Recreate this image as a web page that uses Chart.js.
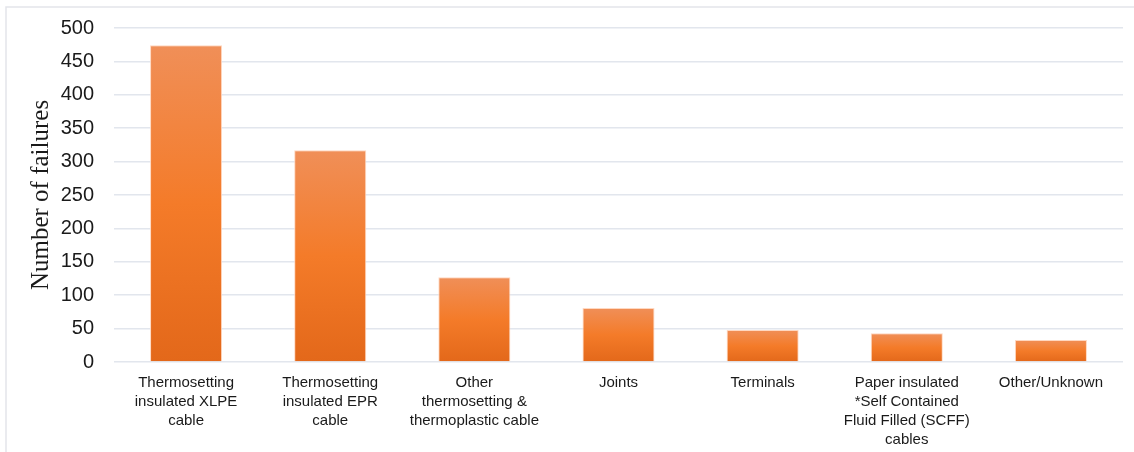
<!DOCTYPE html>
<html>
<head>
<meta charset="utf-8">
<script src="https://cdn.jsdelivr.net/npm/chart.js@4/dist/chart.umd.min.js"></script>
<style>
  html, body { margin: 0; padding: 0; background: #ffffff; }
  #wrap { width: 1134px; height: 452px; position: relative; }
</style>
</head>
<body>
<div id="wrap"><canvas id="chart" width="1134" height="452"></canvas></div>
<script>
// Cable system failures by component type
const categories = [
  ["Thermosetting", "insulated XLPE", "cable"],
  ["Thermosetting", "insulated EPR", "cable"],
  ["Other", "thermosetting &", "thermoplastic cable"],
  "Joints",
  "Terminals",
  ["Paper insulated", "*Self Contained", "Fluid Filled (SCFF)", "cables"],
  "Other/Unknown"
];
const failures = [474, 317, 127, 81, 48, 43, 33];
const yTicks = [0, 50, 100, 150, 200, 250, 300, 350, 400, 450, 500];

// Light frame along the top and left edges
const framePlugin = {
  id: 'frame',
  beforeDraw(chart) {
    const c = chart.ctx;
    c.save();
    c.strokeStyle = '#E3E5EA';
    c.lineWidth = 1.5;
    c.beginPath();
    c.moveTo(6, chart.height);
    c.lineTo(6, 7);
    c.lineTo(chart.width, 7);
    c.stroke();
    c.restore();
  }
};

// Each bar fades from a lighter orange at its top to a deeper orange at its base
function barGradient(context) {
  const chart = context.chart;
  if (!chart.chartArea) return '#F47C2A';
  const y = chart.scales.y;
  const top = y.getPixelForValue(context.raw);
  const base = y.getPixelForValue(0);
  const g = chart.ctx.createLinearGradient(0, top, 0, base);
  g.addColorStop(0, '#F08F58');
  g.addColorStop(0.5, '#F47B29');
  g.addColorStop(1, '#E3681A');
  return g;
}

new Chart(document.getElementById('chart'), {
  type: 'bar',
  data: {
    labels: categories,
    datasets: [{
      data: failures,
      backgroundColor: barGradient,
      borderColor: 'rgba(255, 214, 190, 0.95)',
      borderWidth: 1,
      barPercentage: 0.5,
      categoryPercentage: 1.0
    }]
  },
  options: {
    responsive: false,
    animation: false,
    layout: { padding: { left: 0, right: 11, top: 28, bottom: 0 } },
    plugins: {
      legend: { display: false },
      tooltip: { enabled: false }
    },
    scales: {
      x: {
        grid: { display: false, drawTicks: false },
        border: { display: false },
        ticks: {
          color: '#1a1a1a',
          font: { family: 'Liberation Sans, Arial, sans-serif', size: 15, lineHeight: 1.27 },
          padding: 11,
          maxRotation: 0,
          autoSkip: false
        },
        afterFit(scale) { scale.height = 90; }
      },
      y: {
        min: 0,
        max: 500,
        afterBuildTicks(scale) { scale.ticks = yTicks.map(v => ({ value: v })); },
        grid: { color: '#E2E6ED', lineWidth: 1.5, drawTicks: false },
        border: { display: false },
        ticks: {
          color: '#1a1a1a',
          font: { family: 'Liberation Sans, Arial, sans-serif', size: 20 },
          padding: 20
        },
        title: {
          display: true,
          text: 'Number of failures',
          color: '#1a1a1a',
          font: { family: 'Liberation Serif, Times New Roman, serif', size: 25 },
          padding: { top: 26, bottom: 0 }
        },
        afterFit(scale) {
          scale.width = 114;
          // keep the plot top fixed regardless of tick label overhang
          scale.paddingTop = 0;
          scale.paddingBottom = 0;
        }
      }
    }
  },
  plugins: [framePlugin]
});
</script>
</body>
</html>
